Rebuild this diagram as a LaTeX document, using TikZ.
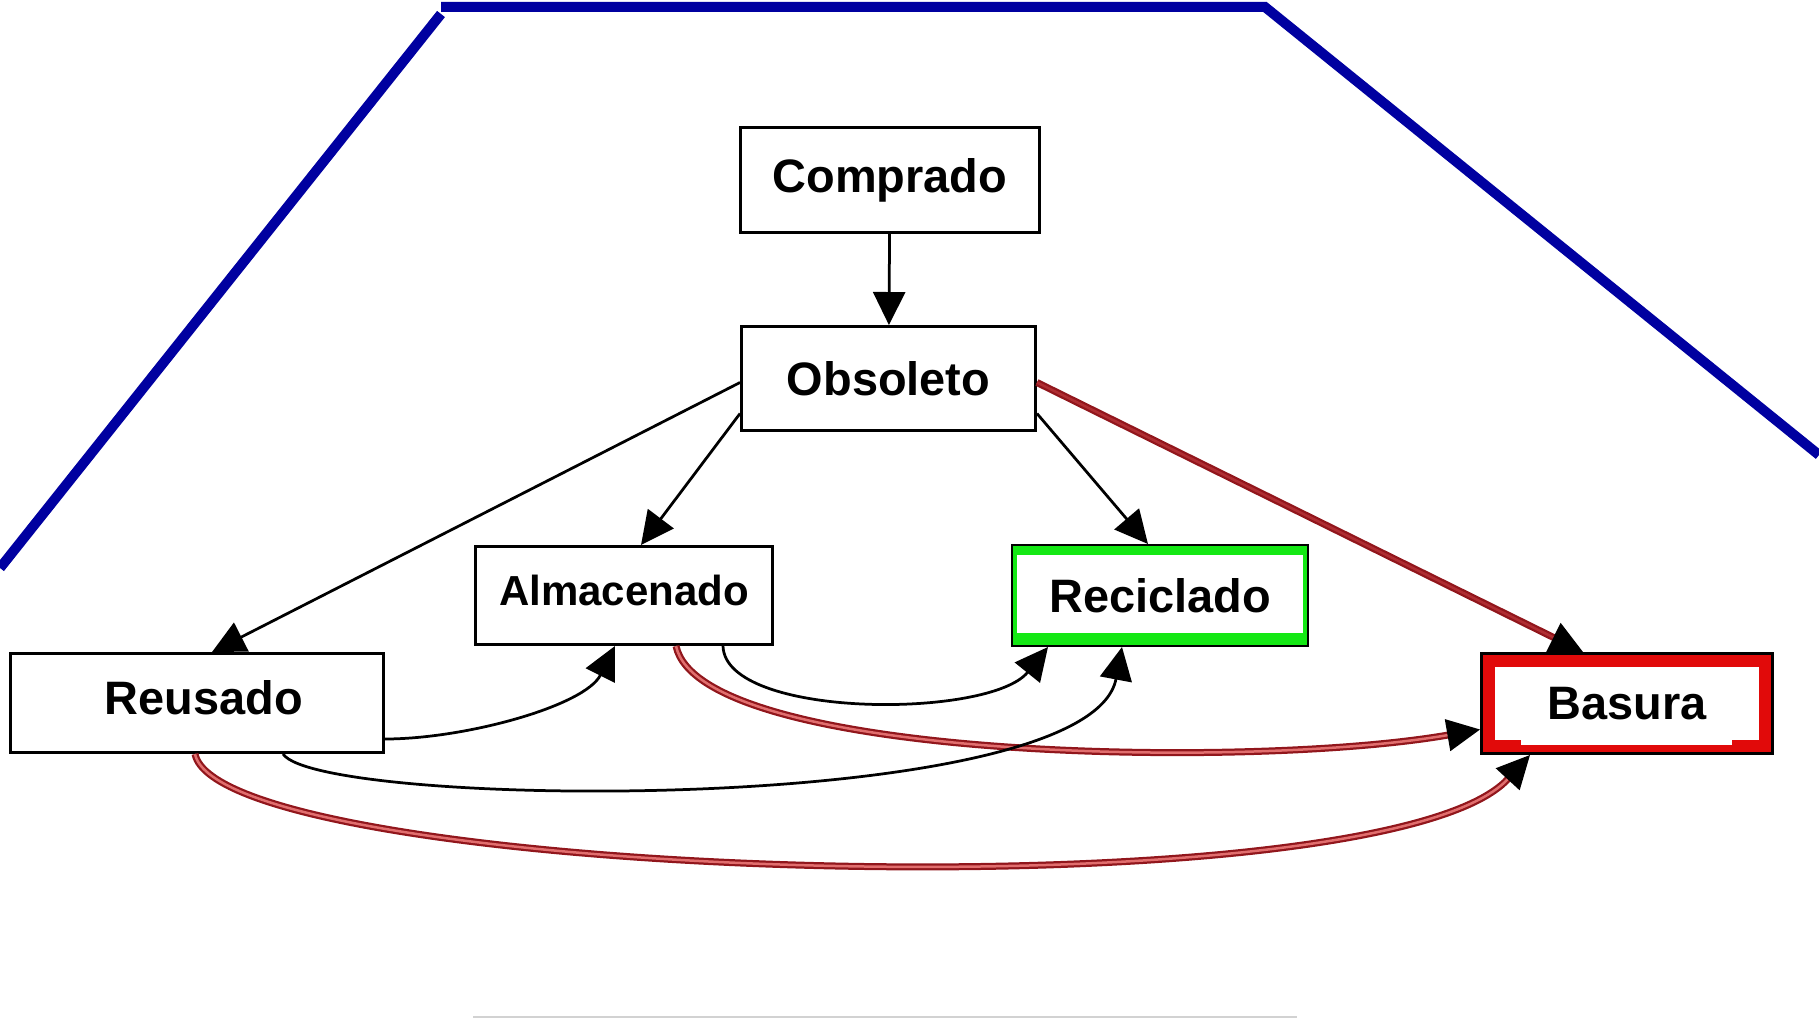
\documentclass[tikz,border=0pt]{standalone}
\usepackage{fontspec}
\setmainfont{Liberation Sans}
\usetikzlibrary{calc,positioning,arrows.meta}

\definecolor{azul}{RGB}{0,0,160}
\definecolor{verde}{RGB}{20,232,20}
\definecolor{rojo}{RGB}{225,10,10}
\definecolor{rojoosc}{RGB}{145,22,28}
\definecolor{rojoclaro}{RGB}{225,110,110}
\definecolor{rojomed}{RGB}{175,45,50}

\begin{document}
\begin{tikzpicture}[x=0.02cm,y=-0.02cm]

\tikzstyle{estado}=[draw,line width=0.06cm,inner sep=0pt,font=\fontsize{26.7}{30}\selectfont\bfseries]
\tikzstyle{flow}=[draw=black,line width=0.055cm,-{Triangle[length=0.66cm,width=0.64cm]}]
\tikzstyle{waste}=[draw=rojoosc,double=rojoclaro,double distance=0.05cm,line width=0.045cm,-{Triangle[length=0.66cm,width=0.64cm,color=black]}]

\useasboundingbox (0,0) rectangle (1819,1024);

%frame lines
\draw[line width=0.2cm,azul] (0,568) -- (441,14);
\draw[line width=0.2cm,azul] (441,7) -- (1265,7) -- (1819,455);
\draw[gray!35,line width=0.03cm] (473,1017) -- (1297,1017);

\node (comp) [estado,minimum width=5.98cm,minimum height=2.1cm] at (890,180) {Comprado};
\node (obs) [estado,minimum width=5.88cm,minimum height=2.08cm] at (888.5,378.5) {Obsoleto};
\node (alm) [estado,minimum width=5.94cm,minimum height=1.96cm,font=\fontsize{23.9}{28}\selectfont\bfseries] at (624,595.5) {\raisebox{0.22cm}{Almacenado}};
\node (reus) [estado,minimum width=7.46cm,minimum height=1.98cm] at (197,703) {\kern0.28cm\raisebox{0.22cm}{Reusado}};

\node (reci) [estado,line width=0.04cm,fill=verde,minimum width=5.92cm,minimum height=2.02cm,
  path picture={\fill[white] ([xshift=0.1cm,yshift=-0.2cm]path picture bounding box.north west) rectangle ([xshift=-0.1cm,yshift=0.26cm]path picture bounding box.south east);}] at (1160,595.5) {Reciclado};

\node (bas) [estado,fill=rojo,minimum width=5.82cm,minimum height=2.0cm,
  path picture={\fill[white] ([xshift=0.27cm,yshift=-0.27cm]path picture bounding box.north west) rectangle ([xshift=-0.27cm,yshift=0.27cm]path picture bounding box.south east);
  \fill[white] ([xshift=0.79cm,yshift=-0.29cm]path picture bounding box.north west) rectangle ([xshift=-0.81cm,yshift=0.17cm]path picture bounding box.south east);}] at (1627,703.5) {Basura};

%connectors
\draw [flow] (comp) -- (obs);
\draw [flow] ($(obs.west)+(0,4)$) -- ($(reus.north)+(15,0)$);
\draw [flow] ($(obs.west)+(0,35)$) -- ($(alm.north)+(17,0)$);
\draw [flow] ($(obs.east)+(0,35)$) -- ($(reci.north)+(-12,0)$);
\draw [waste,double=rojomed] ($(obs.east)+(0,4)$) -- ($(bas.north)+(-44,0)$);
\draw [waste] ($(alm.south)+(52,0)$) .. controls +(24,114) and +(-231,40) .. ($(bas.west)+(0,26)$);
\draw [flow] ($(alm.south)+(99,0)$) .. controls +(2,73) and +(-58,72) .. ($(reci.south)+(-112,0)$);
\draw [flow] ($(reus.east)+(0,36)$) .. controls +(80,0) and +(-30,60) .. ($(alm.south)+(-9,0)$);
\draw [flow] ($(reus.south)+(86,0)$) .. controls +(37,55) and +(-32,170) .. ($(reci.south)+(-38,0)$);
\draw [waste] ($(reus.south)+(-2,0)$) .. controls +(25,125) and +(-150,163) .. ($(bas.south)+(-97,0)$);
\end{tikzpicture}
\end{document}
